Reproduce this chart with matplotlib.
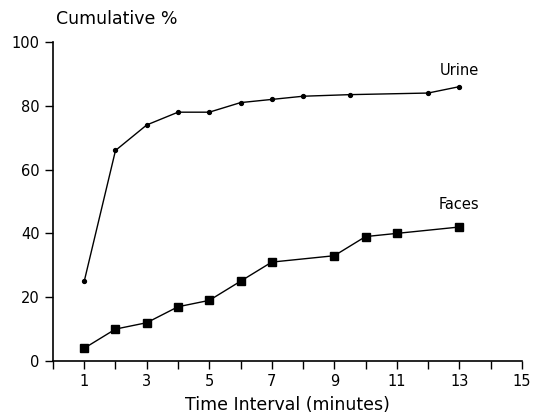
import numpy as np
import matplotlib
matplotlib.use("Agg")
import matplotlib.pyplot as plt

# cumulative excretion (%) by time interval
urine_x = [1, 2, 3, 4, 5, 6, 7, 8, 9.5, 12, 13]
urine_y = [25, 66, 74, 78, 78, 81, 82, 83, 83.5, 84, 86]
faeces_x = [1, 2, 3, 4, 5, 6, 7, 9, 10, 11, 13]
faeces_y = [4, 10, 12, 17, 19, 25, 31, 33, 39, 40, 42]

xticks = np.arange(0, 16)
xlabels = [str(t) if t % 2 == 1 else "" for t in xticks]
yticks = np.arange(0, 101, 20)

plt.rcParams["font.family"] = ["DejaVu Sans"]

fig = plt.figure(figsize=(5.33, 4.18), dpi=100)
ax = fig.add_axes([0.0994, 0.1364, 0.8796, 0.7631])

ax.plot(urine_x, urine_y, "-", color="black", lw=1.0,
        marker="o", ms=2.8)
ax.plot(faeces_x, faeces_y, "-", color="black", lw=1.0,
        marker="s", ms=5.5)

ax.text(13, 91, "Urine", ha="center", va="center", fontsize=10.5)
ax.text(13, 49, "Faces", ha="center", va="center", fontsize=10.5)

ax.set_xlim(0, 15)
ax.set_ylim(0, 100)
ax.set_xticks(xticks)
ax.set_xticklabels(xlabels)
ax.set_yticks(yticks)
ax.tick_params(direction="out", length=6, width=1, labelsize=10.5, color="black")
for s in ["top", "right"]:
    ax.spines[s].set_visible(False)
for s in ["left", "bottom"]:
    ax.spines[s].set_linewidth(1.2)

ax.set_xlabel("Time Interval (minutes)", fontsize=12.5, labelpad=5)
fig.text(0.105, 0.955, "Cumulative %", ha="left", va="center", fontsize=12.5)

fig.savefig("out.png", dpi=100)
